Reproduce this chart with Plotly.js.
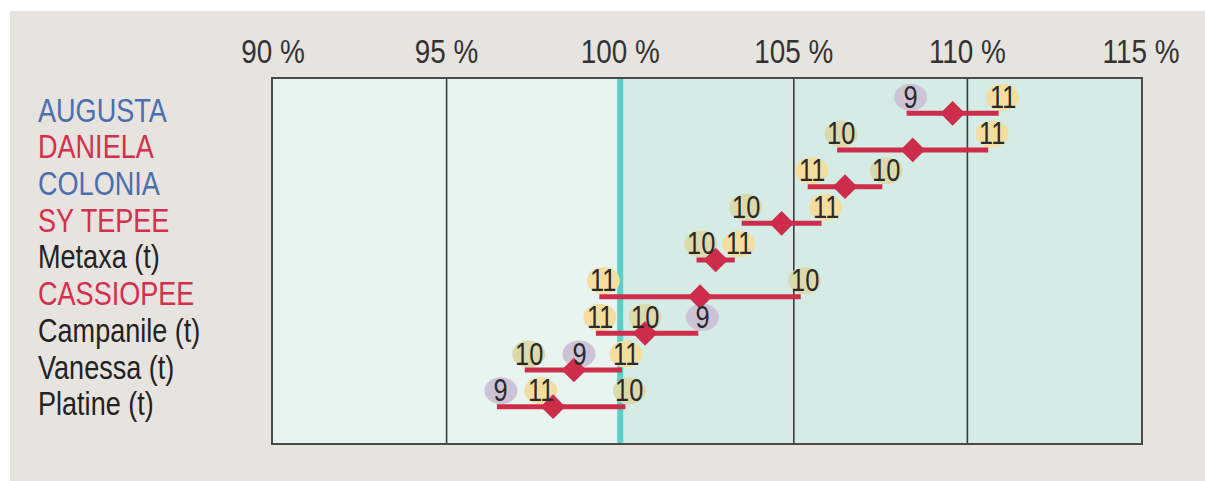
<!DOCTYPE html>
<html>
<head>
<meta charset="utf-8">
<script src="https://cdn.plot.ly/plotly-3.0.1.min.js"></script>
<style>
html,body{margin:0;padding:0;background:#ffffff;}
#chart{width:1205px;height:481px;}
</style>
</head>
<body>
<div id="chart"></div>
<script>
// ---- data ----
var categories = ["AUGUSTA","DANIELA","COLONIA","SY TEPEE","Metaxa (t)","CASSIOPEE","Campanile (t)","Vanessa (t)","Platine (t)"];
var categoryColors = ["#4a6fae","#d2304e","#4a6fae","#d2304e","#222222","#d2304e","#222222","#222222","#222222"];
var years = ["9","10","11"];
var yearColors = ["#cdc3d6","#dcd9ad","#f3dea0"];
var v2009 = [108.25, null, null, null, null, null, 102.25, 98.7, 96.45];
var v2010 = [null, 106.25, 107.55, 103.5, 102.2, 105.2, 100.6, 97.25, 100.15];
var v2011 = [110.9, 110.6, 105.4, 105.8, 103.3, 99.4, 99.3, 100.05, 97.6];
var tickVals = [90, 95, 100, 105, 110, 115];
var tickText = ["90 %","95 %","100 %","105 %","110 %","115 %"];
var gridVals = [95, 105, 110];
var referenceValue = 100;

// ---- build ----
var series = [v2009, v2010, v2011];
var font = "'Liberation Sans',Arial,sans-serif";
var lineX = [], lineY = [], meanX = [], meanY = [];
var shapes = [];
var annotations = [];

// background panels
shapes.push({type:'rect', xref:'paper', yref:'paper', x0:-0.3031, x1:1.0741, y0:-0.1044, y1:1.1868,
  fillcolor:'#e7e3de', line:{width:0}, layer:'below'});
shapes.push({type:'rect', xref:'x', yref:'paper', x0:tickVals[0], x1:referenceValue, y0:0, y1:1,
  fillcolor:'#e8f4f0', line:{width:0}, layer:'below'});
shapes.push({type:'rect', xref:'x', yref:'paper', x0:referenceValue, x1:tickVals[tickVals.length-1], y0:0, y1:1,
  fillcolor:'#d5ece6', line:{width:0}, layer:'below'});
gridVals.forEach(function(g){
  shapes.push({type:'line', xref:'x', yref:'paper', x0:g, x1:g, y0:0, y1:1,
    line:{color:'#3c3c3c', width:1.6}, layer:'below'});
});

for (var i = 0; i < categories.length; i++) {
  var vals = [];
  for (var s = 0; s < series.length; s++) {
    var v = series[s][i];
    if (v === null) continue;
    vals.push(v);
    shapes.push({type:'circle', xref:'x', yref:'y', xsizemode:'pixel', ysizemode:'pixel',
      xanchor:v, yanchor:i, x0:4-16.5, x1:4+16.5, y0:16-13.5, y1:16+13.5,
      fillcolor:yearColors[s], line:{width:0}, layer:'between'});
    annotations.push({xref:'x', yref:'y', x:v, y:i, xshift:4, yshift:16, text:years[s],
      showarrow:false, xanchor:'center', yanchor:'middle',
      font:{family:font, size:31, color:'#2a2a2a'}});
  }
  var mn = Math.min.apply(null, vals), mx = Math.max.apply(null, vals);
  var sum = 0; vals.forEach(function(a){sum += a;});
  lineX.push(mn, mx, null); lineY.push(i, i, null);
  meanX.push(sum / vals.length); meanY.push(i);
  annotations.push({xref:'paper', yref:'y', x:-0.2731, y:i, yshift:3, text:categories[i],
    showarrow:false, xanchor:'left', yanchor:'middle',
    font:{family:font, size:33, color:categoryColors[i]}});
}
// 100 % reference line
shapes.push({type:'line', xref:'x', yref:'paper', x0:referenceValue, x1:referenceValue, y0:0, y1:1,
  line:{color:'#5ccfc7', width:6}, layer:'between'});

var traces = [
  {type:'scatter', mode:'lines', x:lineX, y:lineY, line:{color:'#cd2d4b', width:5}, hoverinfo:'skip', showlegend:false},
  {type:'scatter', mode:'markers', x:meanX, y:meanY, marker:{symbol:'diamond', size:19, color:'#cd2d4b'}, showlegend:false}
];

var layout = {
  width:1205, height:481,
  margin:{l:273, r:64, t:79, b:38, pad:0},
  paper_bgcolor:'#ffffff', plot_bgcolor:'rgba(0,0,0,0)',
  showlegend:false,
  xaxis:{range:[90,115], side:'top', tickvals:tickVals, ticktext:tickText, ticks:'',
    showgrid:false, zeroline:false,
    showline:true, mirror:true, linecolor:'#4a4a4a', linewidth:2,
    tickfont:{family:font, size:34, color:'#333333'}, ticklabelstandoff:0, fixedrange:true},
  yaxis:{range:[8.99,-0.935], showgrid:false, zeroline:false, showticklabels:false, ticks:'',
    showline:true, mirror:true, linecolor:'#4a4a4a', linewidth:2, fixedrange:true},
  shapes:shapes,
  annotations:annotations
};

// narrow the lettering (condensed typeface look) while keeping it real text
function condense(gd){
  gd.querySelectorAll('.xtick text, .annotation-text').forEach(function(t){
    var isCategory = categories.indexOf(t.textContent) >= 0;
    var sx = isCategory ? 0.82 : 0.82;
    var bb = t.getBBox();
    var ox = isCategory ? bb.x : bb.x + bb.width / 2;
    var base = t.getAttribute('transform') || '';
    t.setAttribute('transform', base + ' translate(' + ox + ',0) scale(' + sx + ',1) translate(' + (-ox) + ',0)');
  });
}

Plotly.newPlot('chart', traces, layout, {displayModeBar:false, staticPlot:true}).then(condense);
</script>
</body>
</html>
